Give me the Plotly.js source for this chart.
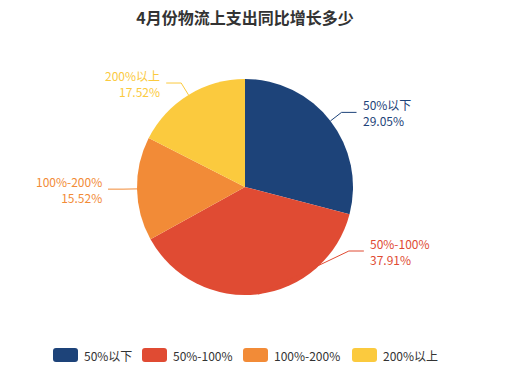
<!DOCTYPE html>
<html>
<head>
<meta charset="utf-8">
<script src="https://cdn.plot.ly/plotly-3.0.1.min.js"></script>
<style>html,body{margin:0;padding:0;background:#fff;}#chart{width:514px;height:378px;}</style>
</head>
<body>
<div id="chart"></div>
<script>
// ---- data ----
const categories = ['50%以下', '50%-100%', '100%-200%', '200%以上'];
const values = [29.05, 37.91, 15.52, 17.52];
const colors = ['#1d4379', '#e04b33', '#f28b37', '#fbca3e'];
const titleText = '4月份物流上支出同比增长多少';

// ---- layout constants (pixels) ----
const W = 514, H = 378;
const cx = 245, cy = 187, R = 108;
const len1 = 14, len2 = 15, textGap = 5;
// label y adjustment after overlap avoidance (px offset from center), null = radial
const bendYOverride = [null, 64, null, null];
const legendX = [53, 142, 243, 352];
const legendY = 355, legendW = 25, legendH = 14;
const FONT = '"Noto Sans CJK SC", "Microsoft YaHei", sans-serif';

const px = x => x / W;
const py = y => 1 - y / H;

const total = values.reduce((a, b) => a + b, 0);
const shapes = [];
const annotations = [];
let cum = 0;
values.forEach((v, i) => {
  const mid = (cum + v / 2) / total * 2 * Math.PI;
  cum += v;
  const sx = Math.sin(mid), sy = -Math.cos(mid);
  const p0 = [cx + R * sx, cy + R * sy];
  let b;
  if (bendYOverride[i] !== null) {
    const dy = bendYOverride[i];
    const rr = R + len1;
    const dx = Math.sqrt(Math.max(rr * rr - dy * dy, 0)) * (sx >= 0 ? 1 : -1);
    b = [cx + dx, cy + dy];
  } else {
    b = [cx + (R + len1) * sx, cy + (R + len1) * sy];
  }
  const right = b[0] >= cx;
  const e = [b[0] + (right ? len2 : -len2), b[1]];
  shapes.push({type: 'path', xref: 'paper', yref: 'paper',
    path: `M${px(p0[0])},${py(p0[1])} L${px(b[0])},${py(b[1])} L${px(e[0])},${py(e[1])}`,
    line: {color: colors[i], width: 1}});
  const tx = e[0] + (right ? textGap : -textGap);
  const pct = (v / total * 100).toFixed(2) + '%';
  annotations.push({xref: 'paper', yref: 'paper', x: px(tx), y: py(b[1]),
    xanchor: right ? 'left' : 'right', yanchor: 'middle', align: right ? 'left' : 'right',
    text: categories[i] + '<br>' + pct, showarrow: false,
    borderpad: 0, font: {family: FONT, size: 12, color: colors[i]}});
});

// custom legend
categories.forEach((c, i) => {
  const x0 = legendX[i], x1 = x0 + legendW, y0 = legendY - legendH / 2, y1 = legendY + legendH / 2, r = 3;
  const path = `M${px(x0 + r)},${py(y0)} L${px(x1 - r)},${py(y0)} Q${px(x1)},${py(y0)} ${px(x1)},${py(y0 + r)} ` +
    `L${px(x1)},${py(y1 - r)} Q${px(x1)},${py(y1)} ${px(x1 - r)},${py(y1)} L${px(x0 + r)},${py(y1)} ` +
    `Q${px(x0)},${py(y1)} ${px(x0)},${py(y1 - r)} L${px(x0)},${py(y0 + r)} Q${px(x0)},${py(y0)} ${px(x0 + r)},${py(y0)} Z`;
  shapes.push({type: 'path', xref: 'paper', yref: 'paper', path: path,
    fillcolor: colors[i], line: {width: 0}});
  annotations.push({xref: 'paper', yref: 'paper', x: px(x1 + 5), y: py(legendY),
    xanchor: 'left', yanchor: 'middle', text: c, showarrow: false, borderpad: 0,
    font: {family: FONT, size: 12, color: '#333333'}});
});

const trace = {
  type: 'pie',
  labels: categories,
  values: values,
  sort: false,
  direction: 'clockwise',
  rotation: 0,
  textinfo: 'none',
  hoverinfo: 'label+percent',
  marker: {colors: colors, line: {width: 0}},
  domain: {x: [px(cx - R), px(cx + R)], y: [py(cy + R), py(cy - R)]},
  showlegend: false
};

const layout = {
  width: W, height: H,
  margin: {l: 0, r: 0, t: 0, b: 0},
  paper_bgcolor: '#ffffff',
  title: {text: '<b>' + titleText + '</b>', x: px(cx), xanchor: 'center', xref: 'paper',
    y: 1 - 18 / H, yanchor: 'middle', yref: 'container',
    font: {family: FONT, size: 16, color: '#333333'}},
  showlegend: false,
  shapes: shapes,
  annotations: annotations
};

Plotly.newPlot('chart', [trace], layout, {displayModeBar: false, staticPlot: true});
</script>
</body>
</html>
